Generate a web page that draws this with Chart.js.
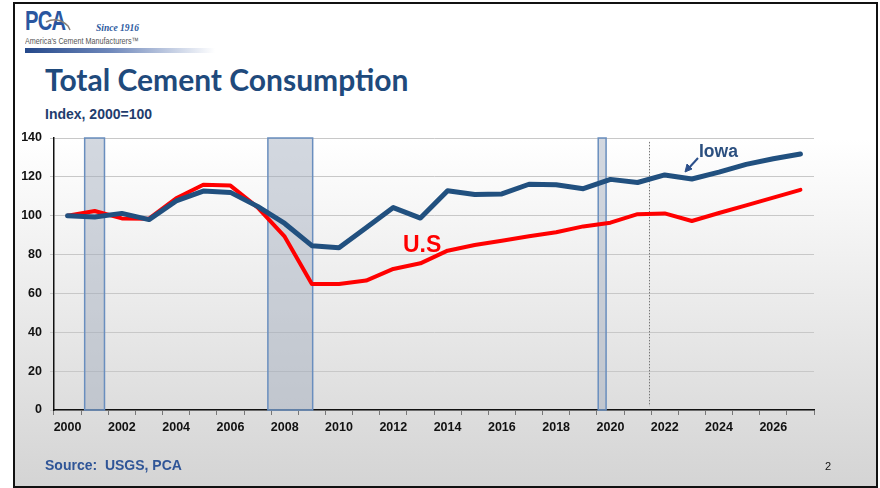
<!DOCTYPE html>
<html>
<head>
<meta charset="utf-8">
<script src="https://cdn.jsdelivr.net/npm/chart.js@4.4.1/dist/chart.umd.min.js"></script>
<style>
  html, body { margin: 0; padding: 0; background: #fff; }
  #page { position: relative; width: 880px; height: 488px; overflow: hidden; background: #fff; }
  #frame { position: absolute; left: 13px; top: 2px; width: 861px; height: 482px;
           border: 2.5px solid #111;
           background: linear-gradient(to bottom, #ffffff 0%, #ffffff 28%, #d4d4d4 100%); }
  #c { position: absolute; left: 0; top: 0; }
  .t { position: absolute; white-space: nowrap; font-family: "Liberation Sans", Arial, sans-serif; }
  #pca { left: 25px; top: 5px; font-family: "Liberation Sans Narrow", "Liberation Sans", sans-serif;
         font-size: 28px; font-weight: bold; color: #2a56a0; letter-spacing: -1px; transform: scaleX(0.72); transform-origin: left top; }
  #since { left: 96px; top: 23px; font-size: 9.5px; font-style: italic; font-weight: bold; color: #2c5aa0;
           font-family: "Liberation Serif", serif; }
  #amer { left: 25px; top: 36px; font-size: 9px; color: #555; font-family: "Liberation Sans Narrow", "Liberation Sans", sans-serif;
          transform: scaleX(0.8); transform-origin: left top; }
  #bar { position: absolute; left: 25px; top: 48px; width: 190px; height: 5px;
         background: linear-gradient(to right, #24488a 0%, #6f88bb 45%, rgba(255,255,255,0) 100%); }
  #title { left: 45px; top: 61px; font-family: Lato, "Open Sans", sans-serif; font-weight: bold; font-size: 30px; color: #1f4a7c; }
  #sub { left: 45px; top: 106px; font-weight: bold; font-size: 14px; color: #1f3d6e; }
  #src { left: 45px; top: 457px; font-weight: bold; font-size: 14px; color: #2f5597; }
  #pg { left: 825px; top: 460px; font-size: 11px; color: #111; }
  #iowa { left: 699px; top: 141px; font-weight: bold; font-size: 17.5px; color: #2b4f7f; }
  #us { left: 403px; top: 231px; font-weight: bold; font-size: 23px; color: #ff0000; }
  #arrow { position: absolute; left: 680px; top: 154px; }
  #swoosh { position: absolute; left: 20px; top: 10px; }
</style>
</head>
<body>
<div id="page">
  <div id="frame"></div>
  <div class="t" id="pca">PCA</div>
  <svg id="swoosh" width="60" height="30"><path d="M 26 12 Q 38 6 48 16 L 50 20" stroke="#8a7f75" stroke-width="1.5" fill="none"/></svg>
  <div class="t" id="since">Since 1916</div>
  <div class="t" id="amer">America's Cement Manufacturers™</div>
  <div id="bar"></div>
  <div class="t" id="title">Total Cement Consumption</div>
  <div class="t" id="sub">Index, 2000=100</div>
  <canvas id="c" width="880" height="488"></canvas>
  <div class="t" id="iowa">Iowa</div>
  <svg id="arrow" width="24" height="22"><line x1="18" y1="4" x2="8" y2="15" stroke="#2b4f8a" stroke-width="2"/><path d="M 5 18 L 7 10 L 12 15 Z" fill="#2b4f8a" stroke="#2b4f8a" stroke-width="1"/></svg>
  <div class="t" id="us">U.S</div>
  <div class="t" id="src">Source:&nbsp; USGS, PCA</div>
  <div class="t" id="pg">2</div>
</div>
<script>
const years = ["2000","2001","2002","2003","2004","2005","2006","2007","2008","2009","2010","2011","2012","2013",
               "2014","2015","2016","2017","2018","2019","2020","2021","2022","2023","2024","2025","2026","2027"];
const iowa = [100, 99.3, 101.2, 98.0, 107.6, 112.7, 112.0, 104.8, 96.0, 84.6, 83.5, 93.8, 104.2, 98.8,
              112.9, 110.9, 111.2, 116.2, 115.9, 113.9, 118.7, 117.1, 121.0, 118.9, 122.4, 126.4, 129.3, 131.8];
const us   = [100, 102.4, 98.6, 98.5, 109.0, 115.9, 115.5, 104.3, 89.2, 64.9, 64.9, 66.6, 72.6, 75.5,
              82.0, 84.9, 87.1, 89.4, 91.5, 94.5, 96.4, 100.8, 101.2, 97.3, 101.4, 105.3, 109.3, 113.3];
// recession periods (decimal years)
const recessions = [[2001.13, 2001.86], [2007.88, 2009.53], [2020.05, 2020.34]];
const forecastStart = 2021.92;
const yTicks = [0, 20, 40, 60, 80, 100, 120, 140];

function yearToPx(xs, yr) {
  return xs.getPixelForValue(yr - 2000 - 0.5);
}

const overlay = {
  id: 'overlay',
  beforeDatasetsDraw(chart) {
    const {ctx, scales: {x, y}} = chart;
    const top = y.getPixelForValue(140), bot = y.getPixelForValue(0);
    ctx.save();
    recessions.forEach(([a, b]) => {
      const l = yearToPx(x, a), r = yearToPx(x, b);
      ctx.fillStyle = 'rgba(159,170,187,0.46)';
      ctx.fillRect(l, top, r - l, bot - top);
      ctx.strokeStyle = 'rgb(105,142,190)';
      ctx.lineWidth = 1.5;
      ctx.strokeRect(l, top, r - l, bot - top);
    });
    const fx = Math.round(yearToPx(x, forecastStart)) + 0.5;
    ctx.strokeStyle = '#777';
    ctx.lineWidth = 1;
    ctx.setLineDash([1.5, 1.5]);
    ctx.beginPath();
    ctx.moveTo(fx, y.getPixelForValue(138));
    ctx.lineTo(fx, y.getPixelForValue(2));
    ctx.stroke();
    ctx.restore();
  }
};

new Chart(document.getElementById('c'), {
  type: 'line',
  data: {
    labels: years,
    datasets: [
      { label: 'Iowa', data: iowa, borderColor: '#21507f', borderWidth: 5, pointRadius: 0,
        borderCapStyle: 'round', borderJoinStyle: 'round', tension: 0, order: 1 },
      { label: 'U.S', data: us, borderColor: '#ff0000', borderWidth: 4, pointRadius: 0,
        borderCapStyle: 'round', borderJoinStyle: 'round', tension: 0, order: 2 }
    ]
  },
  options: {
    responsive: false,
    animation: false,
    devicePixelRatio: 1,
    layout: { padding: { left: 0, top: 138, right: 66, bottom: 0 } },
    plugins: { legend: { display: false }, tooltip: { enabled: false } },
    scales: {
      x: {
        type: 'category',
        offset: true,
        grid: { offset: true, drawOnChartArea: false, drawTicks: true, tickLength: 5, color: '#777' },
        border: { display: true, color: '#111', width: 1.5 },
        ticks: {
          autoSkip: false, maxRotation: 0, padding: 5, color: '#111',
          font: { family: 'Liberation Sans', weight: 'bold', size: 12.5 },
          callback: function(v, i) { const yr = +years[i]; return yr % 2 === 0 ? years[i] : ''; }
        },
        afterFit(s) { s.height = 78; }
      },
      y: {
        min: 0, max: 140,
        afterBuildTicks(s) { s.ticks = yTicks.map(v => ({ value: v })); },
        grid: { color: '#c8c8c8', lineWidth: 1, tickLength: 4 },
        border: { display: true, color: '#111', width: 1.5 },
        ticks: { padding: 8, color: '#111', font: { family: 'Liberation Sans', weight: 'bold', size: 12.5 } },
        afterFit(s) { s.width = 54; }
      }
    }
  },
  plugins: [overlay]
});
</script>
</body>
</html>
